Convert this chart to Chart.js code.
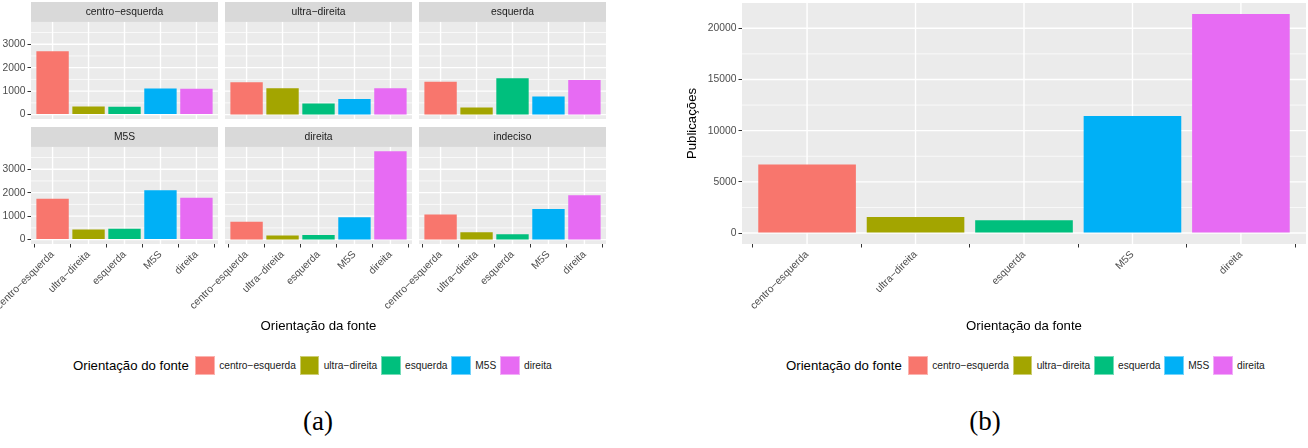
<!DOCTYPE html>
<html>
<head>
<meta charset="utf-8">
<script src="https://cdn.jsdelivr.net/npm/chart.js@4.4.1/dist/chart.umd.min.js"></script>
<style>
body{margin:0;width:1308px;height:448px;background:#fff;position:relative;overflow:hidden;font-family:"Liberation Sans",Arial,sans-serif}
canvas{position:absolute}
.legend{position:absolute;display:flex;align-items:center;white-space:nowrap;color:#000}
.legend .lt{font-size:13.2px;margin-right:6.5px}
.legend .key{width:19.5px;height:18.6px;margin-right:4.3px;box-sizing:border-box;border:1px solid rgba(255,255,255,0.45)}
.legend .lab{font-size:10.2px;margin-right:4px;color:#1a1a1a}
.cap{position:absolute;font-family:"Liberation Serif","Times New Roman",serif;font-size:27px;transform:translateX(-50%);color:#000}
</style>
</head>
<body>
<script>
// categories / facets
const categories = ['centro−esquerda', 'ultra−direita', 'esquerda', 'M5S', 'direita'];
const facetNames = ['centro−esquerda', 'ultra−direita', 'esquerda', 'M5S', 'direita', 'indeciso'];
const colors = ['#F8766D', '#A3A500', '#00BF7D', '#00B0F6', '#E76BF3'];

// (a) values per facet, in category order
const facetCentroEsquerda = [2700, 350, 330, 1110, 1100];
const facetUltraDireita = [1380, 1120, 475, 660, 1120];
const facetEsquerda = [1400, 305, 1545, 775, 1475];
const facetM5S = [1745, 430, 460, 2100, 1785];
const facetDireita = [760, 170, 200, 955, 3760];
const facetIndeciso = [1070, 315, 225, 1300, 1885];
const facetTicks = [0, 1000, 2000, 3000];

// (b) totals
const totalPublicacoes = [6690, 1560, 1240, 11430, 21400];
const totalTicks = [0, 5000, 10000, 15000, 20000];

const facetValues = [facetCentroEsquerda, facetUltraDireita, facetEsquerda, facetM5S, facetDireita, facetIndeciso];

Chart.defaults.font.family = '"Liberation Sans", Arial, sans-serif';
Chart.defaults.color = '#4D4D4D';

// grey panel, strip and white grid (major + minor) like ggplot
const panelBg = {
  id: 'panelBg',
  beforeDraw(chart, args, opts) {
    const ctx = chart.ctx, a = chart.chartArea, x = chart.scales.x, y = chart.scales.y;
    ctx.save();
    const tb = chart.titleBlock;
    if (tb && tb.options.display) {
      ctx.fillStyle = '#D9D9D9';
      ctx.fillRect(tb.left, tb.top, tb.width, tb.height);
    }
    ctx.fillStyle = '#EBEBEB';
    ctx.fillRect(a.left, a.top, a.right - a.left, a.bottom - a.top);
    ctx.strokeStyle = '#FFFFFF';
    const major = opts.yTicks;
    const step = major[1] - major[0];
    ctx.lineWidth = 0.7;
    for (let v = major[0] - step / 2; v <= y.max; v += step) {
      if (v < y.min) continue;
      const py = y.getPixelForValue(v);
      ctx.beginPath(); ctx.moveTo(a.left, py); ctx.lineTo(a.right, py); ctx.stroke();
    }
    ctx.lineWidth = 1.4;
    major.forEach(v => {
      const py = y.getPixelForValue(v);
      ctx.beginPath(); ctx.moveTo(a.left, py); ctx.lineTo(a.right, py); ctx.stroke();
    });
    categories.forEach((c, i) => {
      const px = x.getPixelForValue(i + 1);
      ctx.beginPath(); ctx.moveTo(px, a.top); ctx.lineTo(px, a.bottom); ctx.stroke();
    });
    ctx.restore();
  }
};

function addCanvas(left, top, w, h) {
  const cv = document.createElement('canvas');
  cv.width = w; cv.height = h;
  cv.style.left = left + 'px'; cv.style.top = top + 'px';
  cv.style.width = w + 'px'; cv.style.height = h + 'px';
  document.body.appendChild(cv);
  return cv;
}

// fix a scale's size and drop the label overflow padding chart.js adds
function fixSize(s, w, h) {
  if (w !== null) s.width = w;
  if (h !== null) s.height = h;
  s.paddingLeft = s.paddingRight = s.paddingTop = s.paddingBottom = 0;
}

const tickFont = {size: 10.3};
const titleFont = {size: 13.2};

// (a) facets
const PANEL_LEFT = [31, 225, 419], PANEL_W = 187;
const STRIP_TOP = [2, 127], STRIP_H = 20, PANEL_H = 97, XAXIS_H = 96;
const fmax = Math.max(...facetValues.flat());

facetValues.forEach((vals, idx) => {
  const r = Math.floor(idx / 3), c = idx % 3;
  const yw = c === 0 ? 31 : 0;
  const padL = c === 0 ? 0 : 45;
  const w = padL + yw + PANEL_W + 2;
  const h = STRIP_H + PANEL_H + (r === 1 ? XAXIS_H : 0);
  const cv = addCanvas(PANEL_LEFT[c] - yw - padL, STRIP_TOP[r], w, h);
  new Chart(cv, {
    type: 'bar',
    data: {
      datasets: [{
        data: vals.map((v, i) => ({x: i + 1, y: v})),
        backgroundColor: colors,
        borderWidth: 0,
        categoryPercentage: 1,
        barPercentage: 0.9
      }]
    },
    options: {
      responsive: false, animation: false, devicePixelRatio: 1,
      layout: {autoPadding: false, padding: {left: padL, right: 2, top: 0, bottom: 0}},
      plugins: {
        legend: {display: false}, tooltip: {enabled: false},
        title: {display: true, text: facetNames[idx], fullSize: false, color: '#1A1A1A',
          font: {size: 10.3, weight: 'normal', lineHeight: 1.2}, padding: {top: 4, bottom: 3.6}},
        panelBg: {yTicks: facetTicks}
      },
      scales: {
        x: {
          type: 'linear', min: 0.4, max: 5.6, offset: false, display: r === 1,
          afterBuildTicks: s => { s.ticks = categories.map((cat, i) => ({value: i + 1})); },
          afterFit: s => fixSize(s, null, r === 1 ? XAXIS_H : 0),
          ticks: {autoSkip: false, minRotation: 45, maxRotation: 45, padding: 1, font: tickFont, color: '#4D4D4D',
            callback: v => categories[v - 1]},
          grid: {drawOnChartArea: false, tickLength: 3.5, tickColor: '#333333'},
          border: {display: false},
          title: {display: idx === 4, text: 'Orientação da fonte', color: '#000', font: titleFont, padding: {top: 0, bottom: 6}}
        },
        y: {
          min: -0.05 * fmax, max: 1.05 * fmax, display: c === 0,
          afterBuildTicks: s => { s.ticks = facetTicks.map(v => ({value: v})); },
          afterFit: s => fixSize(s, c === 0 ? 31 : 0, null),
          ticks: {padding: 2, font: tickFont, color: '#4D4D4D', callback: v => String(v)},
          grid: {drawOnChartArea: false, tickLength: 3.5, tickColor: '#333333'},
          border: {display: false}
        }
      }
    },
    plugins: [panelBg]
  });
});

// (b) totals
const tmax = Math.max(...totalPublicacoes);
const cvB = addCanvas(680, 0, 628, 340);
new Chart(cvB, {
  type: 'bar',
  data: {
    datasets: [{
      data: totalPublicacoes.map((v, i) => ({x: i + 1, y: v})),
      backgroundColor: colors,
      borderWidth: 0,
      categoryPercentage: 1,
      barPercentage: 0.9
    }]
  },
  options: {
    responsive: false, animation: false, devicePixelRatio: 1,
    layout: {autoPadding: false, padding: {left: 0, right: 2, top: 3, bottom: 0}},
    plugins: {legend: {display: false}, tooltip: {enabled: false}, panelBg: {yTicks: totalTicks}},
    scales: {
      x: {
        type: 'linear', min: 0.4, max: 5.6, offset: false,
        afterBuildTicks: s => { s.ticks = categories.map((cat, i) => ({value: i + 1})); },
        afterFit: s => fixSize(s, null, 96),
        ticks: {autoSkip: false, minRotation: 45, maxRotation: 45, padding: 1, font: tickFont, color: '#4D4D4D',
          callback: v => categories[v - 1]},
        grid: {drawOnChartArea: false, tickLength: 3.5, tickColor: '#333333'},
        border: {display: false},
        title: {display: true, text: 'Orientação da fonte', color: '#000', font: titleFont, padding: {top: 0, bottom: 6}}
      },
      y: {
        min: -0.05 * tmax, max: 1.05 * tmax,
        afterBuildTicks: s => { s.ticks = totalTicks.map(v => ({value: v})); },
        afterFit: s => fixSize(s, 62, null),
        ticks: {padding: 2, font: tickFont, color: '#4D4D4D', callback: v => String(v)},
        grid: {drawOnChartArea: false, tickLength: 3.5, tickColor: '#333333'},
        border: {display: false},
        title: {display: true, text: 'Publicações', color: '#000', font: titleFont, padding: {top: 4, bottom: 0}}
      }
    }
  },
  plugins: [panelBg]
});

// legends (ggplot style, title on the left)
function buildLegend(left, top) {
  const div = document.createElement('div');
  div.className = 'legend';
  div.style.left = left + 'px';
  div.style.top = top + 'px';
  let html = '<span class="lt">Orientação do fonte</span>';
  categories.forEach((cat, i) => {
    html += '<span class="key" style="background:' + colors[i] + '"></span><span class="lab">' + cat + '</span>';
  });
  div.innerHTML = html;
  document.body.appendChild(div);
}
buildLegend(73, 356);
buildLegend(786, 356);

function caption(text, cx, top) {
  const d = document.createElement('div');
  d.className = 'cap';
  d.style.left = cx + 'px';
  d.style.top = top + 'px';
  d.textContent = text;
  document.body.appendChild(d);
}
caption('(a)', 318, 406);
caption('(b)', 985, 406);
</script>
</body>
</html>
